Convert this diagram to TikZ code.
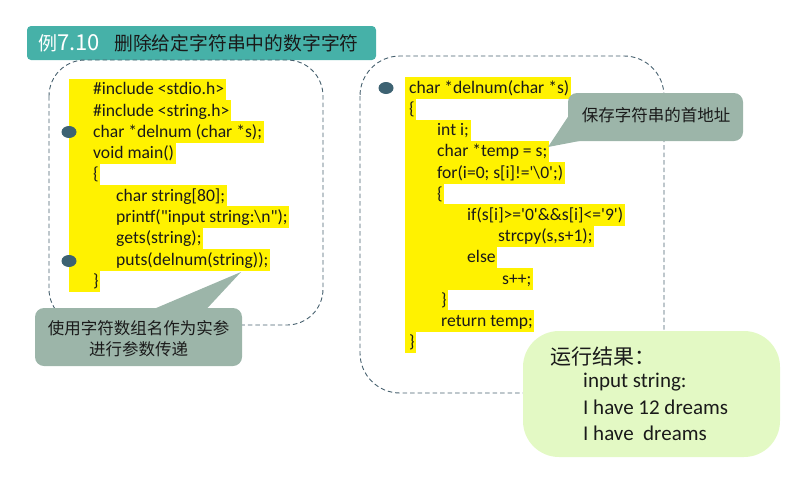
\documentclass[tikz,border=0pt]{standalone}
\usepackage{fontspec}
\setmainfont{Carlito}[Ligatures=TeXOff]
\newfontfamily\cjk{Noto Sans CJK SC}
\usetikzlibrary{backgrounds}
\definecolor{teal1}{HTML}{46B1A8}
\definecolor{dashc}{HTML}{46606E}
\definecolor{dotc}{HTML}{3D6272}
\definecolor{callc}{HTML}{9CB5A9}
\definecolor{resc}{HTML}{E3F9C4}
\definecolor{txtc}{HTML}{1A1A1A}
\tikzset{
  dashbox/.style={draw=dashc, line width=0.9pt, dash pattern=on 4.5pt off 3pt},
  codetxt/.style={anchor=west, inner sep=0pt, text height=15.9pt, text depth=5.5pt,
     font=\fontsize{17.6}{21}\selectfont, text=txtc},
  dotmark/.style={fill=dotc, draw=none},
  callbox/.style={fill=callc, draw=none},
  calltxt/.style={font=\cjk\fontsize{16.5}{21}\selectfont, text=txtc, align=center, inner sep=0pt},
  restxt/.style={anchor=west, inner sep=0pt, font=\fontsize{21}{25}\selectfont, text=txtc},
}
\newcommand\codeln[5]{% name, leftx coordinate, x, y, text
  \node[codetxt] (#1) at (#3,#4) {#5};
  \begin{pgfonlayer}{background}
    \fill[yellow] (#1.north west -| #2) rectangle ([xshift=1.5pt]#1.south east);
  \end{pgfonlayer}}
\begin{document}
\begin{tikzpicture}[x=1pt,y=-1pt]
\useasboundingbox (0,0) rectangle (792,477);
% title
\node[fill=teal1, rounded corners=4pt, minimum width=349pt, minimum height=34pt, inner sep=0pt] (title) at (201.5,43) {};
\node[anchor=west, inner sep=0pt, text=white, font=\cjk\fontsize{19}{22}\selectfont] (t1) at (38,43) {例{\fontsize{22}{24}\selectfont 7.10}};
\node[anchor=west, inner sep=0pt, text=txtc, font=\cjk\fontsize{18.8}{22}\selectfont] (t2) at (114,43) {删除给定字符串中的数字字符};

% dashed boxes
\draw[dashbox, rounded corners=36pt] (49,60) rectangle (323,325);
\draw[dashbox, rounded corners=40pt] (360,56) rectangle (664,393);

% left code
\coordinate (lxL) at (69,0);
\codeln{a1}{lxL}{93}{89.5}{\#include <stdio.h>}
\codeln{a2}{lxL}{93}{110.8}{\#include <string.h>}
\codeln{a3}{lxL}{93}{132.1}{char *delnum (char *s);}
\codeln{a4}{lxL}{93}{153.4}{void main()}
\codeln{a5}{lxL}{93}{174.7}{\{}
\codeln{a6}{lxL}{116}{196}{char string[80];}
\codeln{a7}{lxL}{116}{217.3}{printf("input string:\textbackslash n");}
\codeln{a8}{lxL}{116}{238.6}{gets(string);}
\codeln{a9}{lxL}{116}{259.9}{puts(delnum(string));}
\codeln{a10}{lxL}{93}{281.2}{\}}

% right code
\coordinate (lxR) at (405,0);
\codeln{b1}{lxR}{409}{88}{char *delnum(char *s)}
\codeln{b2}{lxR}{409}{109.2}{\{}
\codeln{b3}{lxR}{437}{130.4}{int i;}
\codeln{b4}{lxR}{437}{151.6}{char *temp = s;}
\codeln{b5}{lxR}{437}{172.8}{for(i=0; s[i]!='\textbackslash 0';)}
\codeln{b6}{lxR}{437}{194}{\{}
\codeln{b7}{lxR}{467}{215.2}{if(s[i]>='0'\&\&s[i]<='9')}
\codeln{b8}{lxR}{498}{236.4}{strcpy(s,s+1);}
\codeln{b9}{lxR}{467}{257.6}{else}
\codeln{b10}{lxR}{502}{278.8}{s++;}
\codeln{b11}{lxR}{441}{300}{\}}
\codeln{b12}{lxR}{441}{321.2}{return temp;}
\codeln{b13}{lxR}{409}{342.4}{\}}

% dots
\fill[dotmark] (69,132) ellipse [x radius=7.5pt, y radius=6pt];
\fill[dotmark] (69,261) ellipse [x radius=7.5pt, y radius=6pt];
\fill[dotmark] (386,88) ellipse [x radius=7.5pt, y radius=6pt];

% left callout
\fill[callbox, rounded corners=9pt] (35,308) rectangle (242,366);
\coordinate (ltip) at (241,272);
\fill[callbox] (155,308.5) -- (ltip) -- (207,308.5) -- cycle;
\node[calltxt] (c1) at (138.5,338.5) {使用字符数组名作为实参\\[0pt]进行参数传递};

% right callout
\fill[callbox, rounded corners=9pt] (568,93) rectangle (743,141);
\coordinate (rtip) at (548,147);
\fill[callbox] (568.5,116) -- (rtip) -- (582,140.5) -- cycle;
\node[calltxt] (c2) at (656,115) {保存字符串的首地址};

% result box
\fill[resc, rounded corners=36pt] (523,331) rectangle (780,457);
\node[restxt, font=\cjk\fontsize{21}{25}\selectfont] (r0) at (550,357) {运行结果：};
\node[restxt] (r1) at (583,382) {input string:};
\node[restxt] (r2) at (583,407.5) {I have 12 dreams};
\node[restxt] (r3) at (583,433) {I have~ dreams};
\end{tikzpicture}
\end{document}
